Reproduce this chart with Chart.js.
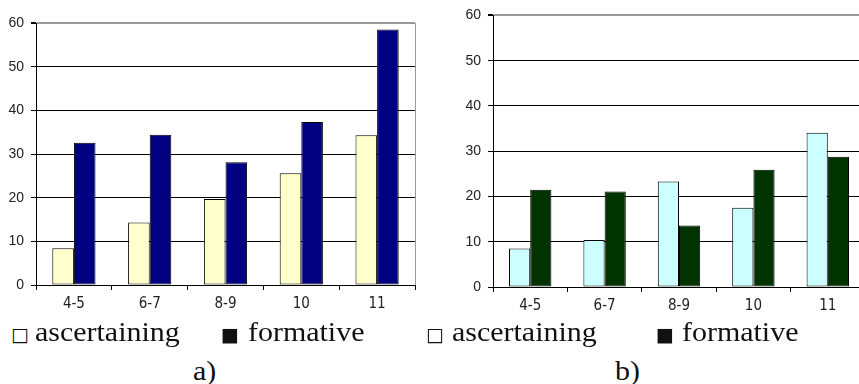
<!DOCTYPE html>
<html>
<head>
<meta charset="utf-8">
<script src="https://cdn.jsdelivr.net/npm/chart.js@4/dist/chart.umd.min.js"></script>
<style>
html,body{margin:0;padding:0;width:859px;height:384px;overflow:hidden;background:#fff;}
#wrap{position:relative;width:859px;height:384px;overflow:hidden;}
canvas{position:absolute;top:0;}
.t{position:absolute;font-family:"Liberation Serif","Times New Roman",serif;font-size:28px;line-height:28px;color:#111;white-space:nowrap;transform:scaleX(1.07);transform-origin:0 0;}
.g{position:absolute;font-family:"DejaVu Sans",sans-serif;font-size:19px;line-height:19px;color:#111;white-space:nowrap;}
</style>
</head>
<body>
<div id="wrap">
<canvas id="c1" width="430" height="320" style="left:0;width:430px;height:320px"></canvas>
<canvas id="c2" width="440" height="320" style="left:430px;width:440px;height:320px"></canvas>
<div class="g" style="left:11px;top:325px">□</div>
<div class="t" style="left:35px;top:318px">ascertaining</div>
<div class="g" style="left:221px;top:325px">■</div>
<div class="t" style="left:248px;top:318px">formative</div>
<div class="t" style="left:193px;top:357px">a)</div>
<div class="g" style="left:426px;top:325px">□</div>
<div class="t" style="left:452px;top:318px">ascertaining</div>
<div class="g" style="left:656px;top:325px">■</div>
<div class="t" style="left:682px;top:318px">formative</div>
<div class="t" style="left:615px;top:357px">b)</div>
</div>
<script>
const categories = ['4-5', '6-7', '8-9', '10', '11'];
const yTicks = [0, 10, 20, 30, 40, 50, 60];
const seriesNames = ['ascertaining', 'formative'];
const aAscertaining = [8.4, 14.3, 19.7, 25.6, 34.3];
const aFormative = [32.6, 34.4, 28.1, 37.3, 58.5];
const bAscertaining = [8.5, 10.4, 23.3, 17.5, 34.1];
const bFormative = [21.5, 21.1, 13.6, 25.9, 28.8];

function makeChart(id, d1, d2, c1, c2, yW, xH, pad) {
  const yMax = yTicks[yTicks.length - 1];
  return new Chart(document.getElementById(id), {
    type: 'bar',
    data: {
      labels: categories,
      datasets: [
        {label: seriesNames[0], data: d1, backgroundColor: c1, borderColor: '#000', borderWidth: 1, borderSkipped: false},
        {label: seriesNames[1], data: d2, backgroundColor: c2, borderColor: '#000', borderWidth: 1, borderSkipped: false}
      ]
    },
    options: {
      responsive: false,
      animation: false,
      devicePixelRatio: 1,
      layout: {padding: pad},
      plugins: {legend: {display: false}, tooltip: {enabled: false}},
      datasets: {bar: {categoryPercentage: 0.57, barPercentage: 1}},
      scales: {
        x: {
          grid: {
            offset: true,
            drawOnChartArea: true,
            tickLength: 5,
            tickColor: '#000',
            color: (ctx) => ctx.type === 'tick' ? 'rgba(0,0,0,0)' : '#999',
            lineWidth: 1
          },
          border: {color: '#000', width: 1},
          ticks: {font: {family: '"DejaVu Sans Condensed", "DejaVu Sans", sans-serif', size: 15}, color: '#222', padding: 5, maxRotation: 0},
          afterFit: (s) => { s.height = xH; }
        },
        y: {
          min: 0, max: yMax,
          afterBuildTicks: (s) => { s.ticks = yTicks.map(v => ({value: v})); },
          grid: {
            tickLength: 5,
            tickColor: '#000',
            color: (ctx) => (ctx.tick && ctx.tick.value === yMax) ? '#999' : '#000',
            lineWidth: (ctx) => (ctx.tick && ctx.tick.value === yMax) ? 2 : 1
          },
          border: {color: '#000', width: 1},
          ticks: {font: {family: '"Liberation Sans", Arial, sans-serif', size: 14}, color: '#222', padding: 7},
          afterFit: (s) => { s.width = yW; }
        }
      }
    }
  });
}

makeChart('c1', aAscertaining, aFormative, '#FFFFCC', '#000080', 36, 35, {top: 23, right: 15, left: 0, bottom: 0});
makeChart('c2', bAscertaining, bFormative, '#CCFFFF', '#003300', 63, 33, {top: 14, right: 5, left: 0, bottom: 0});
</script>
</body>
</html>
